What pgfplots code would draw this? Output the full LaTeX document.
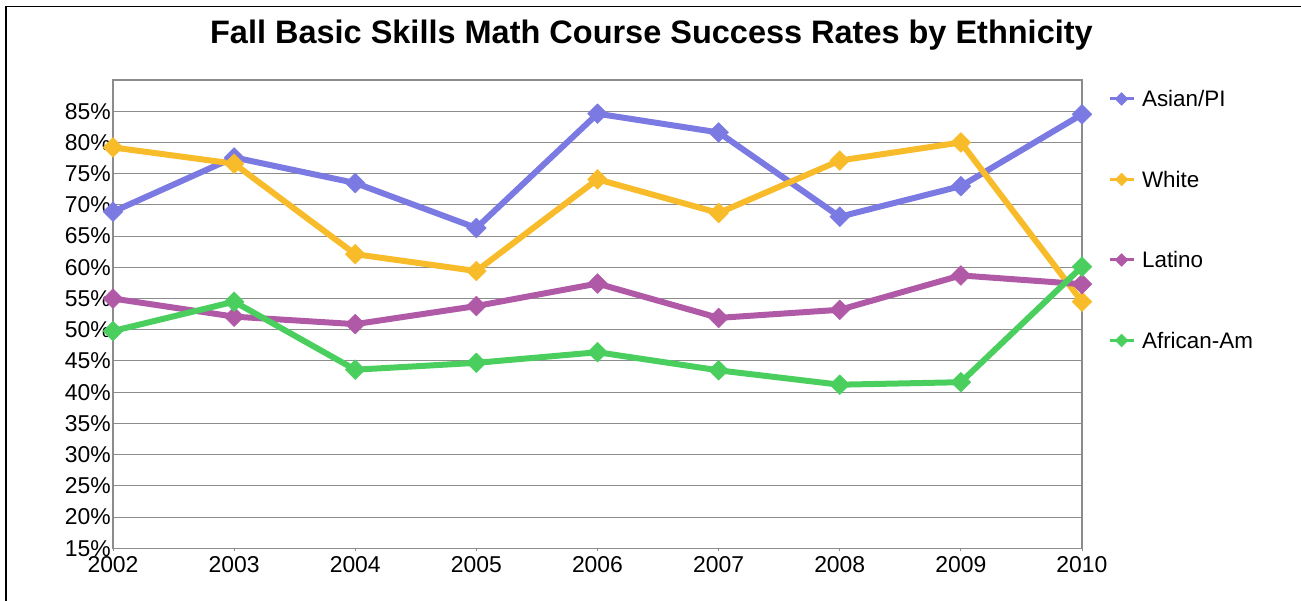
\documentclass[border=0pt]{standalone}
\usepackage{pgfplots}
\pgfplotsset{compat=1.18}
\usepackage{fontspec}
\setmainfont{Liberation Sans}

\definecolor{asian}{RGB}{122,122,226}
\definecolor{white}{RGB}{248,188,43}
\definecolor{latino}{RGB}{176,90,167}
\definecolor{african}{RGB}{74,207,95}
\definecolor{gridgray}{RGB}{140,140,140}

\begin{document}
\begin{tikzpicture}
\useasboundingbox (-113bp,-52.7bp) rectangle (1188bp,548.3bp);
\draw[black, line width=1.3bp] (-107bp,-60bp) -- (-107bp,542bp) -- (1200bp,542bp);
\begin{axis}[
    scale only axis,
    width=969bp, height=468.3bp,
    xmin=2002, xmax=2010,
    ymin=15, ymax=90,
    clip=false,
    xtick={2002,2003,...,2010},
    ytick={15,20,...,85},
    /pgf/number format/assume math mode=true,
    xticklabel style={/pgf/number format/1000 sep={}, inner sep=0pt, yshift=-5bp},
    yticklabel={\pgfmathprintnumber{\tick}\%},
    yticklabel style={inner sep=0pt, xshift=-2bp},
    tick label style={font=\fontsize{23}{27}\selectfont},
    major tick length=3bp,
    xtick align=outside,
    xtick pos=left,
    ytick style={draw=none},
    xtick style={gridgray, line width=0.8bp},
    ymajorgrids,
    grid style={gridgray, line width=1bp},
    axis line style={gridgray, line width=1.5bp},
    title={Fall Basic Skills Math Course Success Rates by Ethnicity},
    title style={at={(axis description cs:0.5557,1.0641)}, anchor=base,
        font=\bfseries\fontsize{32.6}{38}\selectfont},
    every axis plot/.append style={line width=6bp, line join=round,
        mark=square*, mark size=7bp, mark options={rotate=45, line width=0.5bp}},
    legend image code/.code={
        \draw[#1, line width=3bp, mark size=4.5bp, mark repeat=2, mark phase=2]
            plot coordinates {(0bp,0bp) (12bp,0bp) (24bp,0bp)};},
    legend cell align=left,
    legend style={at={(axis description cs:1.0267,0.977)}, anchor=north west,
        draw=none, fill=none, inner sep=0pt, row sep=64.5bp,
        font=\fontsize{22.5}{26}\selectfont,
        nodes={inner sep=0pt, text height=16bp, text depth=0bp},
        /tikz/every odd column/.append style={column sep=7bp}},
]
\addplot[asian] coordinates {
    (2002,68.9) (2003,77.6) (2004,73.5) (2005,66.3) (2006,84.6)
    (2007,81.6) (2008,68.1) (2009,73.0) (2010,84.5)};
\addlegendentry{Asian/PI}
\addplot[white] coordinates {
    (2002,79.2) (2003,76.6) (2004,62.1) (2005,59.4) (2006,74.1)
    (2007,68.7) (2008,77.1) (2009,80.0) (2010,54.5)};
\addlegendentry{White}
\addplot[latino] coordinates {
    (2002,55.0) (2003,52.1) (2004,50.9) (2005,53.8) (2006,57.4)
    (2007,51.9) (2008,53.2) (2009,58.7) (2010,57.3)};
\addlegendentry{Latino}
\addplot[african] coordinates {
    (2002,49.8) (2003,54.5) (2004,43.6) (2005,44.7) (2006,46.4)
    (2007,43.5) (2008,41.2) (2009,41.6) (2010,60.1)};
\addlegendentry{African-Am}
\end{axis}
\end{tikzpicture}
\end{document}
